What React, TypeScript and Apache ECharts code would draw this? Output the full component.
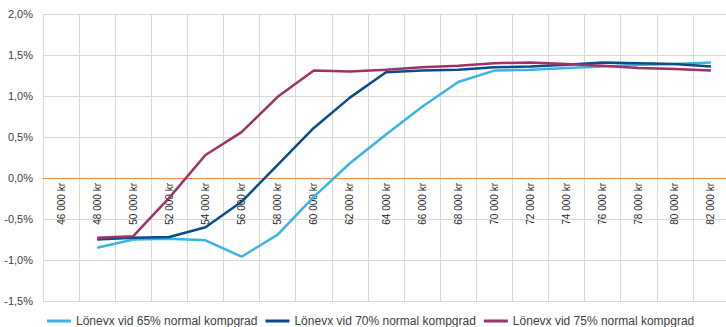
import React, { useEffect, useRef } from "react";
import * as echarts from "echarts";

const categories = [
  "46 000 kr", "48 000 kr", "50 000 kr", "52 000 kr", "54 000 kr", "56 000 kr", "58 000 kr",
  "60 000 kr", "62 000 kr", "64 000 kr", "66 000 kr", "68 000 kr", "70 000 kr", "72 000 kr",
  "74 000 kr", "76 000 kr", "78 000 kr", "80 000 kr", "82 000 kr",
];

// Wage growth (percent) at each monthly salary level
const komp65 = [null, -0.85, -0.75, -0.74, -0.76, -0.96, -0.69, -0.23, 0.18, 0.53, 0.87, 1.17, 1.31, 1.32, 1.34, 1.36, 1.38, 1.39, 1.41];
const komp70 = [null, -0.75, -0.73, -0.72, -0.6, -0.29, 0.16, 0.61, 0.98, 1.29, 1.31, 1.32, 1.35, 1.36, 1.38, 1.41, 1.4, 1.39, 1.36];
const komp75 = [null, -0.73, -0.71, -0.24, 0.28, 0.56, 0.99, 1.31, 1.3, 1.32, 1.35, 1.37, 1.4, 1.41, 1.39, 1.37, 1.34, 1.33, 1.31];

const seriesNames = [
  "Lönevx vid 65% normal kompgrad",
  "Lönevx vid 70% normal kompgrad",
  "Lönevx vid 75% normal kompgrad",
];
const seriesColors = ["#3AB4E6", "#0B4B8D", "#9E3268"];

const yMin = -1.5;
const yMax = 2.0;
const yStep = 0.5;

const gridTop = 14;
const gridBottom = 26;
const chartHeight = 327;

export default function App() {
  const ref = useRef<HTMLDivElement>(null);

  useEffect(() => {
    if (!ref.current) return;
    const chart = echarts.init(ref.current, null, { renderer: "svg" });
    const font = "'Liberation Sans', Arial, sans-serif";
    const data = [komp65, komp70, komp75];
    // Lift the category axis (line and labels) up to the zero level of the value axis
    const plotHeight = chartHeight - gridTop - gridBottom;
    const zeroFromBottom = (plotHeight * (0 - yMin)) / (yMax - yMin);
    chart.setOption({
      animation: false,
      textStyle: { fontFamily: font },
      grid: { left: 43, right: -3, top: gridTop, bottom: gridBottom, containLabel: false, outerBoundsMode: "none" },
      legend: {
        left: 47,
        top: 315,
        padding: 0,
        itemGap: 8,
        itemWidth: 24,
        itemHeight: 3,
        icon: "rect",
        textStyle: { fontSize: 12, color: "#404040", fontFamily: font },
        data: seriesNames,
      },
      xAxis: {
        type: "category",
        data: categories,
        boundaryGap: true,
        offset: -zeroFromBottom,
        axisLine: { onZero: false, lineStyle: { color: "#EE8A4F", width: 1 } },
        axisTick: { show: false },
        axisLabel: { rotate: 90, fontSize: 10, color: "#262626", margin: 5, interval: 0, fontFamily: font },
        splitLine: { show: true, lineStyle: { color: "#D9D9D9", width: 1 } },
      },
      yAxis: {
        type: "value",
        min: yMin,
        max: yMax,
        interval: yStep,
        axisLine: { show: false },
        axisTick: { show: false },
        axisLabel: {
          fontSize: 11,
          color: "#404040",
          margin: 10,
          fontFamily: font,
          formatter: (v: number) => v.toFixed(1).replace(".", ",") + "%",
        },
        splitLine: { show: true, lineStyle: { color: "#D9D9D9", width: 1 } },
      },
      series: data.map((d, i) => ({
        name: seriesNames[i],
        type: "line",
        data: d,
        showSymbol: false,
        symbol: "none",
        color: seriesColors[i],
        lineStyle: { width: 2.5, color: seriesColors[i] },
      })),
    });
    return () => chart.dispose();
  }, []);

  return (
    <div
      ref={ref}
      style={{ position: "fixed", left: 0, top: 0, width: 726, height: 327, background: "#fff" }}
    />
  );
}
